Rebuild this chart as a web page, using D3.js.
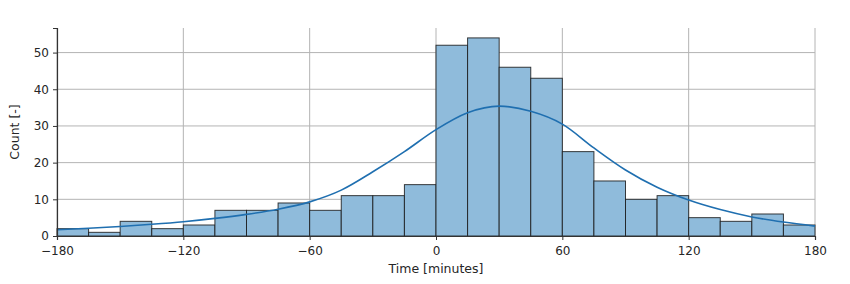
<!DOCTYPE html>
<html lang="en">
<head>
    <meta charset="UTF-8">
    <title>Histogram: Time [minutes]</title>
    <script src="https://d3js.org/d3.v7.min.js"></script>
    <style>
        body { margin: 0; background: #fff; }
        text { font-family: "DejaVu Sans", sans-serif; fill: #262626; }
    </style>
</head>
<body>
    <svg id="chart" width="850" height="284"></svg>
    <script>
        // Bin left edges (minutes), bin width 15
        var binStarts = [-180, -165, -150, -135, -120, -105, -90, -75, -60, -45, -30, -15,
                         0, 15, 30, 45, 60, 75, 90, 105, 120, 135, 150, 165];
        var counts = [2, 1, 4, 2, 3, 7, 7, 9, 7, 11, 11, 14,
                      52, 54, 46, 43, 23, 15, 10, 11, 5, 4, 6, 3];
        var binWidth = 15;

        // KDE curve
        var kdeX = [-180, -165, -150, -135, -120, -105, -90, -75, -60, -45, -30, -15,
                    0, 15, 30, 45, 60, 75, 90, 105, 120, 135, 150, 165, 180];
        var kdeY = [1.7, 2.1, 2.6, 3.2, 3.9, 4.8, 5.9, 7.3, 9.3, 12.5, 17.5, 23,
                    29, 33.6, 35.4, 34, 30.5, 24, 18, 13.3, 9.8, 7.2, 5.2, 3.8, 2.7];

        var xTicks = [-180, -120, -60, 0, 60, 120, 180];
        var yTicks = [0, 10, 20, 30, 40, 50];

        var margin = { top: 28, right: 35, bottom: 48, left: 57 };
        var width = 850 - margin.left - margin.right;
        var height = 284 - margin.top - margin.bottom;

        var svg = d3.select("#chart")
                    .append("g")
                    .attr("transform", "translate(" + margin.left + "," + margin.top + ")");

        var x = d3.scaleLinear().domain([-180, 180]).range([0, width]);
        var y = d3.scaleLinear().domain([0, 56.7]).range([height, 0]);

        var fmt = function(d) { return d < 0 ? "\u2212" + Math.abs(d) : String(d); };

        // Grid lines
        svg.append("g")
           .selectAll("line")
           .data(yTicks)
           .enter().append("line")
           .attr("x1", 0).attr("x2", width)
           .attr("y1", d => y(d)).attr("y2", d => y(d))
           .attr("stroke", "#b4b4b4").attr("stroke-width", 1);

        svg.append("g")
           .selectAll("line")
           .data(xTicks)
           .enter().append("line")
           .attr("x1", d => x(d)).attr("x2", d => x(d))
           .attr("y1", 0).attr("y2", height)
           .attr("stroke", "#b4b4b4").attr("stroke-width", 1);

        // Bars
        svg.append("g")
           .selectAll("rect")
           .data(counts)
           .enter().append("rect")
           .attr("x", (d, i) => x(binStarts[i]))
           .attr("width", (d, i) => x(binStarts[i] + binWidth) - x(binStarts[i]))
           .attr("y", d => y(d))
           .attr("height", d => y(0) - y(d))
           .attr("fill", "#8fbbdb")
           .attr("stroke", "#1a1a1a")
           .attr("stroke-opacity", 0.85)
           .attr("stroke-width", 1);

        // KDE line
        var line = d3.line()
                     .x((d, i) => x(kdeX[i]))
                     .y(d => y(d))
                     .curve(d3.curveMonotoneX);

        svg.append("path")
           .datum(kdeY)
           .attr("d", line)
           .attr("fill", "none")
           .attr("stroke", "#1f6fb0")
           .attr("stroke-width", 1.6);

        // Axes
        var xAxis = svg.append("g")
           .attr("transform", "translate(0," + height + ")")
           .call(d3.axisBottom(x).tickValues(xTicks).tickFormat(fmt).tickSize(4).tickPadding(6));

        var yAxis = svg.append("g")
           .call(d3.axisLeft(y).tickValues(yTicks).tickSize(4).tickPadding(4));

        [xAxis, yAxis].forEach(function(a) {
            a.select(".domain").attr("stroke", "#333").attr("stroke-width", 1.2);
            a.selectAll(".tick line").attr("stroke", "#333");
            a.selectAll(".tick text").attr("font-size", 12).attr("fill", "#262626")
             .style("font-family", "'DejaVu Sans', sans-serif");
        });

        // Axis labels
        svg.append("text")
           .attr("x", width / 2)
           .attr("y", height + 37)
           .attr("text-anchor", "middle")
           .attr("font-size", 12.5)
           .text("Time [minutes]");

        svg.append("text")
           .attr("transform", "translate(" + (-38) + "," + (height / 2) + ") rotate(-90)")
           .attr("text-anchor", "middle")
           .attr("font-size", 12.5)
           .text("Count [-]");
    </script>
</body>
</html>
